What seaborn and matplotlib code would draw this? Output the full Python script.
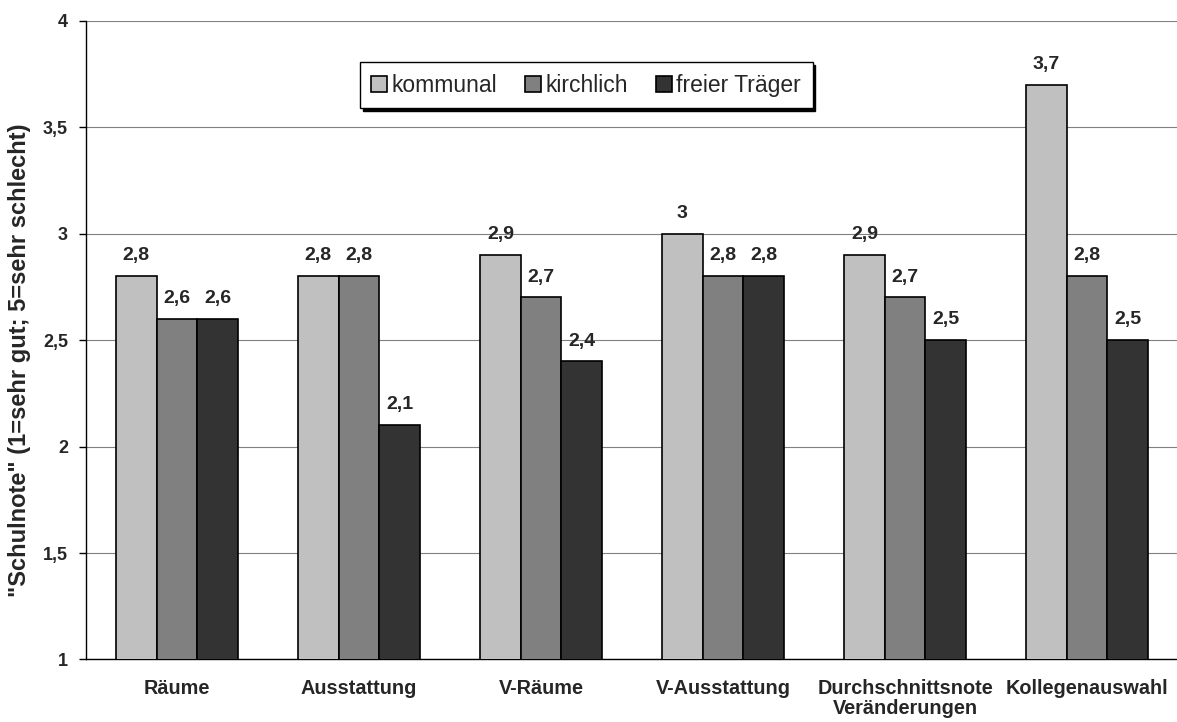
import pandas as pd
import matplotlib
matplotlib.use("Agg")
import matplotlib.pyplot as plt
import seaborn as sns
from matplotlib.ticker import MultipleLocator, FuncFormatter

# Daten aus der Grafik
kategorien = ["Räume", "Ausstattung", "V-Räume", "V-Ausstattung",
              "Durchschnittsnote\nVeränderungen", "Kollegenauswahl"]
traeger = ["kommunal", "kirchlich", "freier Träger"]
kommunal = [2.8, 2.8, 2.9, 3.0, 2.9, 3.7]
kirchlich = [2.6, 2.8, 2.7, 2.8, 2.7, 2.8]
freier_traeger = [2.6, 2.1, 2.4, 2.8, 2.5, 2.5]
farben = ["#C0C0C0", "#808080", "#333333"]

df = pd.DataFrame({
    "Kategorie": kategorien * 3,
    "Träger": [t for t in traeger for _ in kategorien],
    "Note": kommunal + kirchlich + freier_traeger,
})

sns.set_style("white")
plt.rcParams["font.family"] = ["Liberation Sans", "DejaVu Sans"]

fig = plt.figure(figsize=(11.77, 7.22), dpi=100)
# Diagrammfläche läuft rechts etwas über den Bildrand hinaus (wie im Original)
ax = fig.add_axes([0.0731, 0.0866, 0.9278, 0.8848])

sns.barplot(data=df, x="Kategorie", y="Note", hue="Träger", order=kategorien,
            hue_order=traeger, palette=farben, width=0.67, saturation=1,
            edgecolor="black", linewidth=1.2, ax=ax, zorder=3)

ax.set_ylim(1, 4)
ax.set_xlim(-0.5, len(kategorien) - 0.5)
ax.yaxis.set_major_locator(MultipleLocator(0.5))
ax.yaxis.set_major_formatter(FuncFormatter(lambda v, p: f"{v:g}".replace(".", ",")))
ax.grid(axis="y", color="#808080", linewidth=0.8, zorder=0)
ax.set_axisbelow(True)

for s in ["top", "right"]:
    ax.spines[s].set_visible(False)
for s in ["left", "bottom"]:
    ax.spines[s].set_color("black")
    ax.spines[s].set_linewidth(1.0)

# Trennstriche zwischen Kategorien
ax.set_xticks(range(len(kategorien)))
ax.set_xticklabels(kategorien, fontweight="bold", fontsize=14.3, linespacing=1.05)
ax.set_xticks([i - 0.5 for i in range(len(kategorien) + 1)], minor=True)
ax.tick_params(axis="x", which="major", length=0, pad=14)
ax.tick_params(axis="x", which="minor", length=5, width=1, direction="out", color="black")
ax.tick_params(axis="y", length=5, width=1, direction="out", color="black", left=True, pad=8)
for lbl in ax.get_yticklabels():
    lbl.set_fontweight("bold")
    lbl.set_fontsize(13)

ax.set_xlabel("")
ax.set_ylabel('"Schulnote" (1=sehr gut; 5=sehr schlecht)', fontweight="bold", fontsize=17)
ax.yaxis.set_label_coords(-0.05, 0.469)

for cont in ax.containers:
    ax.bar_label(cont, labels=[f"{v:g}".replace(".", ",") for v in cont.datavalues],
                 padding=8.5, fontweight="bold", fontsize=14)

leg = ax.legend(loc="center", bbox_to_anchor=(0.458, 0.899), ncol=3, fontsize=16.5,
                frameon=True, fancybox=False, shadow={"color": "black", "alpha": 1},
                edgecolor="black", handlelength=0.7, handleheight=0.7,
                handletextpad=0.2, columnspacing=1.2, borderpad=0.5)
leg.get_frame().set_linewidth(1.0)
leg.get_frame().set_alpha(1)

fig.savefig("out.png", dpi=100)
